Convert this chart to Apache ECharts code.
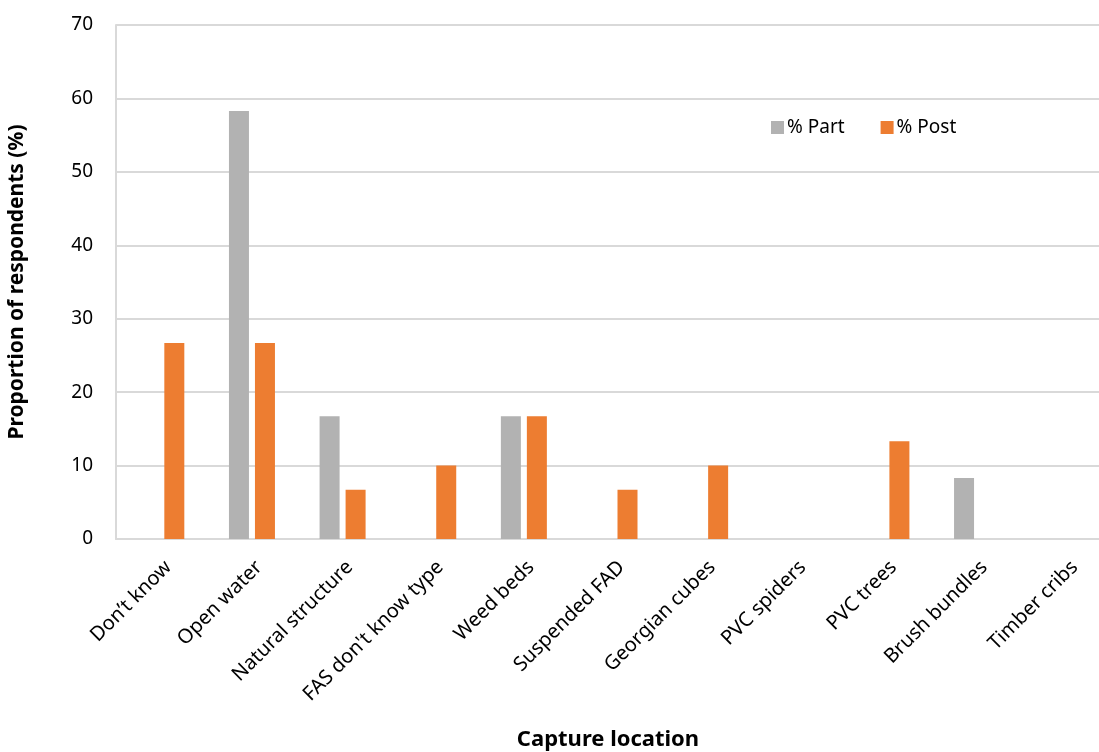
<!DOCTYPE html>
<html>
<head>
<meta charset="utf-8">
<script src="https://cdn.jsdelivr.net/npm/echarts@6/dist/echarts.min.js"></script>
<style>
  html, body { margin: 0; padding: 0; background: #fff; }
  #one { width: 1099px; height: 752px; }
</style>
</head>
<body>
<div id="one"></div>
<script>
var categories = ['Don\u2019t know', 'Open water', 'Natural structure', 'FAS don\'t know type', 'Weed beds',
    'Suspended FAD', 'Georgian cubes', 'PVC spiders', 'PVC trees', 'Brush bundles', 'Timber cribs'];
var partValues = [0, 58.3, 16.7, 0, 16.7, 0, 0, 0, 0, 8.3, 0];
var postValues = [26.7, 26.7, 6.7, 10, 16.7, 6.7, 10, 0, 13.3, 0, 0];
var yTicks = [0, 10, 20, 30, 40, 50, 60, 70];

var font = 'Noto Sans';
var myChart = echarts.init(document.getElementById('one'));
// plot area runs past the right edge of the picture, like the cropped original
var option = {
    animation: false,
    textStyle: { fontFamily: font },
    grid: { left: 116, right: -14, top: 25, bottom: 213, containLabel: false, outerBoundsMode: 'none' },
    legend: {
        data: ['% Part', '% Post'],
        left: 766,
        top: 113,
        icon: 'rect',
        itemWidth: 13,
        itemHeight: 13,
        itemGap: 36,
        itemStyle: { borderWidth: 0 },
        textStyle: { fontSize: 19, color: '#000', fontFamily: font, padding: [0, 0, 0, -2] }
    },
    color: ['#b2b2b2', '#ed7d31'],
    xAxis: {
        type: 'category',
        data: categories,
        name: 'Capture location',
        nameLocation: 'middle',
        nameGap: 190,
        nameTextStyle: { fontSize: 22, fontWeight: 'bold', color: '#000', padding: [0, 13, 0, 0] },
        axisLine: { show: true, lineStyle: { color: '#d9d9d9', width: 2 } },
        axisTick: { show: false },
        axisLabel: { rotate: 45, fontSize: 20, color: '#000', margin: 18, interval: 0, verticalAlign: 'top' }
    },
    yAxis: {
        type: 'value',
        min: 0,
        max: 70,
        interval: 10,
        name: 'Proportion of respondents (%)',
        nameLocation: 'middle',
        nameGap: 88,
        nameTextStyle: { fontSize: 21, fontWeight: 'bold', color: '#000' },
        axisLine: { show: true, lineStyle: { color: '#d9d9d9', width: 2 } },
        axisTick: { show: false },
        axisLabel: {
            fontSize: 19, color: '#000', margin: 23,
            formatter: function (v) { return yTicks.indexOf(v) >= 0 ? String(v) : ''; }
        },
        splitLine: { show: true, lineStyle: { color: '#d9d9d9', width: 2 } }
    },
    series: [
        {
            name: '% Part',
            type: 'bar',
            barWidth: 20,
            barGap: '30%',
            data: partValues
        },
        {
            name: '% Post',
            type: 'bar',
            barWidth: 20,
            data: postValues
        }
    ]
};
myChart.setOption(option);
</script>
</body>
</html>
